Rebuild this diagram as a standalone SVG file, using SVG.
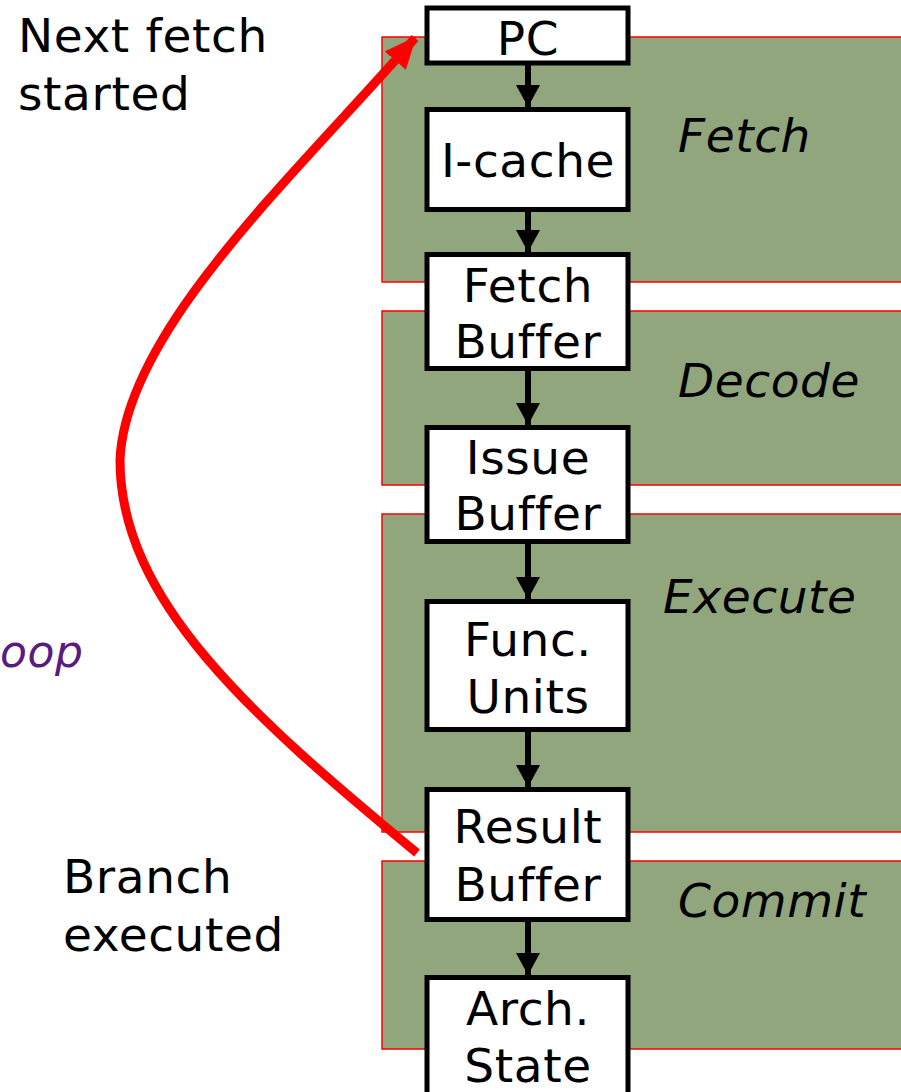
<svg xmlns="http://www.w3.org/2000/svg" width="901" height="1092" viewBox="0 0 901 1092">
<style>
.band{fill:#91A67D;stroke:#FF0000;stroke-width:1.5}
.box{fill:#FFFFFF;stroke:#000000;stroke-width:5}
.t{font-family:"DejaVu Sans","Verdana",sans-serif;font-size:47px;letter-spacing:0.6px;fill:#000000}
.c{text-anchor:middle}
.i{font-style:italic}
.arr{stroke:#000000;stroke-width:6;fill:none}
</style>
<defs>
<marker id="ah" markerUnits="userSpaceOnUse" markerWidth="22" markerHeight="24" refX="22" refY="12" orient="auto" viewBox="0 0 22 24">
<path d="M0,0 L22,12 L0,24 Z" fill="#000000"/>
</marker>
<marker id="rh" markerUnits="userSpaceOnUse" markerWidth="32" markerHeight="28" refX="30" refY="14" orient="auto" viewBox="0 0 32 28">
<path d="M0,0 L32,14 L0,28 Z" fill="#FF0000"/>
</marker>
</defs>
<rect width="901" height="1092" fill="#FFFFFF"/>
<g id="stages">
<rect id="stage-fetch" class="band" x="382" y="37" width="530" height="245"/>
<rect id="stage-decode" class="band" x="382" y="311" width="530" height="174"/>
<rect id="stage-execute" class="band" x="382" y="514" width="530" height="318"/>
<rect id="stage-commit" class="band" x="382" y="861" width="530" height="188"/>
<text class="t i" x="678" y="152">Fetch</text>
<text class="t i" x="678" y="397">Decode</text>
<text class="t i" x="663" y="613">Execute</text>
<text class="t i" x="678" y="917">Commit</text>
</g>
<g id="connectors">
<line class="arr" x1="528" y1="64" x2="528" y2="107" marker-end="url(#ah)"/>
<line class="arr" x1="528" y1="210" x2="528" y2="252" marker-end="url(#ah)"/>
<line class="arr" x1="528" y1="369" x2="528" y2="425" marker-end="url(#ah)"/>
<line class="arr" x1="528" y1="542" x2="528" y2="599" marker-end="url(#ah)"/>
<line class="arr" x1="528" y1="730" x2="528" y2="787" marker-end="url(#ah)"/>
<line class="arr" x1="528" y1="920" x2="528" y2="975" marker-end="url(#ah)"/>
<path d="M417,853 C250,715 120,600 120,460 C125,330 300,170 415,38" fill="none" stroke="#FF0000" stroke-width="9" marker-end="url(#rh)"/>
</g>
<g id="pc"><rect class="box" x="427" y="8" width="201" height="55"/><text class="t c" x="528" y="55">PC</text></g>
<g id="icache"><rect class="box" x="427" y="109.5" width="201" height="100"/><text class="t c" x="528" y="177">I-cache</text></g>
<g id="fetch-buffer"><rect class="box" x="427" y="254.5" width="201" height="114"/><text class="t c" x="528" y="302">Fetch</text><text class="t c" x="528" y="358">Buffer</text></g>
<g id="issue-buffer"><rect class="box" x="427" y="427.5" width="201" height="114"/><text class="t c" x="528" y="474">Issue</text><text class="t c" x="528" y="530">Buffer</text></g>
<g id="func-units"><rect class="box" x="427" y="601.5" width="201" height="128"/><text class="t c" x="528" y="656">Func.</text><text class="t c" x="528" y="713">Units</text></g>
<g id="result-buffer"><rect class="box" x="427" y="789.5" width="201" height="130"/><text class="t c" x="528" y="843">Result</text><text class="t c" x="528" y="901">Buffer</text></g>
<g id="arch-state"><rect class="box" x="427" y="977.5" width="201" height="120"/><text class="t c" x="528" y="1025">Arch.</text><text class="t c" x="528" y="1082">State</text></g>
<g id="labels">
<text class="t" x="18" y="52">Next fetch</text>
<text class="t" x="18" y="110">started</text>
<text class="t" x="63" y="893">Branch</text>
<text class="t" x="63" y="951">executed</text>
<text class="t i" x="0" y="667" style="fill:#5A1A7F;font-size:44px">oop</text>
</g>
</svg>
